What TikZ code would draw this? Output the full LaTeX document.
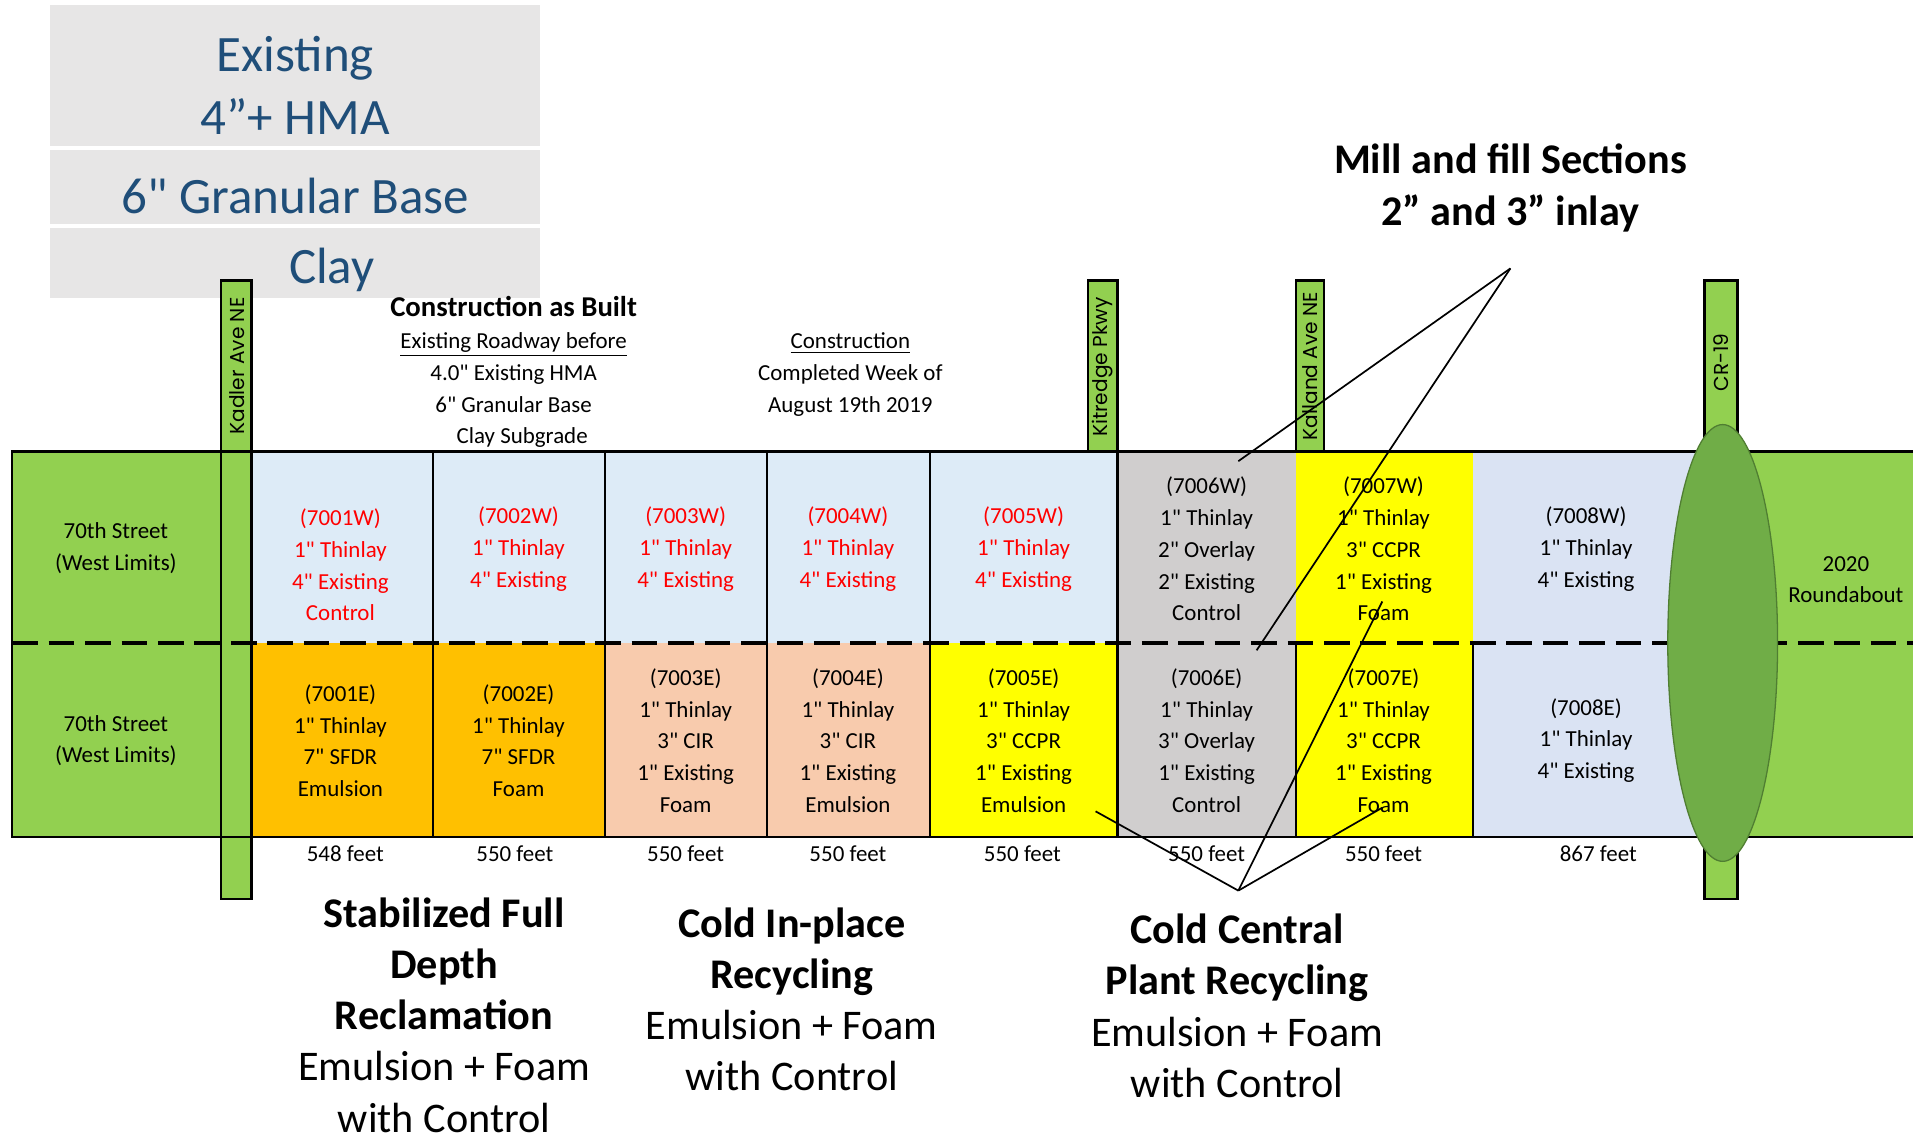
\documentclass[tikz,border=0pt]{standalone}
\usepackage{fontspec}
\setmainfont{Carlito}[Ligatures=TeXOff]
\newfontfamily\barfont{Poppins}
\definecolor{boxgrey}{HTML}{E7E6E6}
\definecolor{boxblue}{HTML}{1F4E79}
\definecolor{lgreen}{HTML}{92D050}
\definecolor{dgreen}{HTML}{70AD47}
\definecolor{dgreenb}{HTML}{507E32}
\definecolor{lblue}{HTML}{DDEBF7}
\definecolor{lgrey}{HTML}{D0CECE}
\definecolor{lav}{HTML}{DAE3F3}
\definecolor{peach}{HTML}{F8CBAD}
\definecolor{orng}{HTML}{FFC000}
\definecolor{yell}{HTML}{FFFF00}
\definecolor{redtxt}{HTML}{FF0000}
\tikzset{
  celltxt/.style={inner sep=0pt, align=center, font=\fontsize{10.7}{14.8}\selectfont},
  headtxt/.style={inner sep=0pt, align=center, font=\fontsize{10.7}{14.8}\selectfont},
  bigtxt/.style={inner sep=0pt, align=center, font=\fontsize{19.7}{23.9}\selectfont},
  boxtxt/.style={inner sep=0pt, align=center, text=boxblue, font=\fontsize{23.8}{29.6}\selectfont},
  barlbl/.style={inner sep=0pt, rotate=90, font=\barfont\fontsize{9.4}{10}\selectfont},
  roadbar/.style={fill=lgreen, draw=black, line width=1.1pt},
  divider/.style={draw=black, line width=1pt},
  connector/.style={draw=black, line width=0.8pt},
}
\begin{document}
\begin{tikzpicture}[x=0.02cm,y=-0.02cm]
\useasboundingbox (0,0) rectangle (1568,934);
% grey legend boxes
\fill[boxgrey] (41,4) rectangle (443,120);
\fill[boxgrey] (41,123) rectangle (443,184);
\fill[boxgrey] (41,187) rectangle (443,244);
\node[boxtxt] (hma) at (242,70) {Existing\\4”+ HMA};
\node[boxtxt] (gran) at (242,161) {6" Granular Base};
\node[boxtxt] (clay) at (272,221) {Clay};
% table fills
\fill[lgreen] (10,370) rectangle (181,686);
\fill[lblue] (206,370) rectangle (916,527);
\fill[orng] (206,527) rectangle (496,686);
\fill[peach] (496,527) rectangle (762,686);
\fill[yell] (762,527) rectangle (916,686);
\fill[lgrey] (916,370) rectangle (1062,686);
\fill[yell] (1062,370) rectangle (1207,686);
\fill[lav] (1207,370) rectangle (1412,686);
\fill[lgreen] (1412,370) rectangle (1568,686);
% road bars
\draw[roadbar] (181,230) rectangle (206,737);
\draw[roadbar] (1397,230) rectangle (1424,737);
\draw[roadbar] (892,230) rectangle (916,370);
\draw[roadbar] (1062,230) rectangle (1085,370);
% centre dashed line
\draw[black, line width=1.7pt, dash pattern=on 12 off 5] (10,527) -- (1568,527);
% borders
\draw[black, line width=1.2pt] (1568,370) -- (10,370) -- (10,686) -- (1568,686);
\foreach \xx in {355,496,629,762,916} {\draw[divider] (\xx,370) -- (\xx,686);}
\foreach \xx in {1062,1207} {\draw[divider] (\xx,527) -- (\xx,686);}
% roundabout
\draw[fill=dgreen, draw=dgreenb, line width=0.6pt] (1412,527) ellipse [x radius=45, y radius=179];
% bar labels
\node[barlbl] (kadler) at (194,300) {Kadler Ave NE};
\node[barlbl] (kitredge) at (904,301) {Kitredge Pkwy};
\node[barlbl] (kalland) at (1073.5,300) {Kalland Ave NE};
\node[barlbl] (cr19) at (1410.5,297) {CR-19};
% header texts
\node[inner sep=0pt, font=\fontsize{13.4}{16}\selectfont\bfseries] (asbuilt) at (421,251) {Construction as Built};
\node[headtxt] (before) at (421,320) {\underline{Existing Roadway before}\\4.0" Existing HMA\\6" Granular Base\\\hspace*{8pt}Clay Subgrade};
\node[headtxt] (completed) at (697,307) {\underline{Construction}\\Completed Week of\\August 19th 2019};
% left / right labels
\node[celltxt] (westW) at (95,449) {70th Street\\(West Limits)};
\node[celltxt] (westE) at (95,607) {70th Street\\(West Limits)};
\node[celltxt] (rabout) at (1513,475) {2020\\Roundabout};
% W row
\node[celltxt, text=redtxt] (w1) at (279,463) {(7001W)\\1" Thinlay\\4" Existing\\Control};
\node[celltxt, text=redtxt] (w2) at (425,450) {(7002W)\\1" Thinlay\\4" Existing};
\node[celltxt, text=redtxt] (w3) at (562,450) {(7003W)\\1" Thinlay\\4" Existing};
\node[celltxt, text=redtxt] (w4) at (695,450) {(7004W)\\1" Thinlay\\4" Existing};
\node[celltxt, text=redtxt] (w5) at (839,450) {(7005W)\\1" Thinlay\\4" Existing};
\node[celltxt] (w6) at (989,450) {(7006W)\\1" Thinlay\\2" Overlay\\2" Existing\\Control};
\node[celltxt] (w7) at (1134,450) {(7007W)\\1" Thinlay\\3" CCPR\\1" Existing\\Foam};
\node[celltxt] (w8) at (1300,450) {(7008W)\\1" Thinlay\\4" Existing};
% E row
\node[celltxt] (e1) at (279,607) {(7001E)\\1" Thinlay\\7" SFDR\\Emulsion};
\node[celltxt] (e2) at (425,607) {(7002E)\\1" Thinlay\\7" SFDR\\Foam};
\node[celltxt] (e3) at (562,607) {(7003E)\\1" Thinlay\\3" CIR\\1" Existing\\Foam};
\node[celltxt] (e4) at (695,607) {(7004E)\\1" Thinlay\\3" CIR\\1" Existing\\Emulsion};
\node[celltxt] (e5) at (839,607) {(7005E)\\1" Thinlay\\3" CCPR\\1" Existing\\Emulsion};
\node[celltxt] (e6) at (989,607) {(7006E)\\1" Thinlay\\3" Overlay\\1" Existing\\Control};
\node[celltxt] (e7) at (1134,607) {(7007E)\\1" Thinlay\\3" CCPR\\1" Existing\\Foam};
\node[celltxt] (e8) at (1300,607) {(7008E)\\1" Thinlay\\4" Existing};
% lengths
\node[celltxt] (f1) at (283,700) {548 feet};
\node[celltxt] (f2) at (422,700) {550 feet};
\node[celltxt] (f3) at (562,700) {550 feet};
\node[celltxt] (f4) at (695,700) {550 feet};
\node[celltxt] (f5) at (838,700) {550 feet};
\node[celltxt] (f6) at (989,700) {550 feet};
\node[celltxt] (f7) at (1134,700) {550 feet};
\node[celltxt] (f8) at (1310,700) {867 feet};
% big labels
\node[bigtxt] (mill) at (1238,154) {\bfseries Mill and fill Sections\\\bfseries 2” and 3” inlay};
\node[bigtxt] (sfdr) at (364,832) {\bfseries Stabilized Full\\\bfseries Depth\\\bfseries Reclamation\\Emulsion + Foam\\with Control};
\node[bigtxt] (cir) at (649,819) {\bfseries Cold In-place\\\bfseries Recycling\\Emulsion + Foam\\with Control};
\node[bigtxt] (ccpr) at (1014,824.5) {\bfseries Cold Central\\\bfseries Plant Recycling\\Emulsion + Foam\\with Control};
% connectors
\coordinate (millapex) at (1238,220);
\coordinate (mill6w) at (1015,378);
\coordinate (mill6e) at (1030,533);
\coordinate (ccapex) at (1015,730);
\coordinate (cc5e) at (898,665);
\coordinate (cc7w) at (1133,493);
\coordinate (cc7e) at (1133,662);
\draw[connector] (millapex) -- (mill6w);
\draw[connector] (millapex) -- (mill6e);
\draw[connector] (ccapex) -- (cc5e);
\draw[connector] (ccapex) -- (cc7w);
\draw[connector] (ccapex) -- (cc7e);
\end{tikzpicture}
\end{document}
